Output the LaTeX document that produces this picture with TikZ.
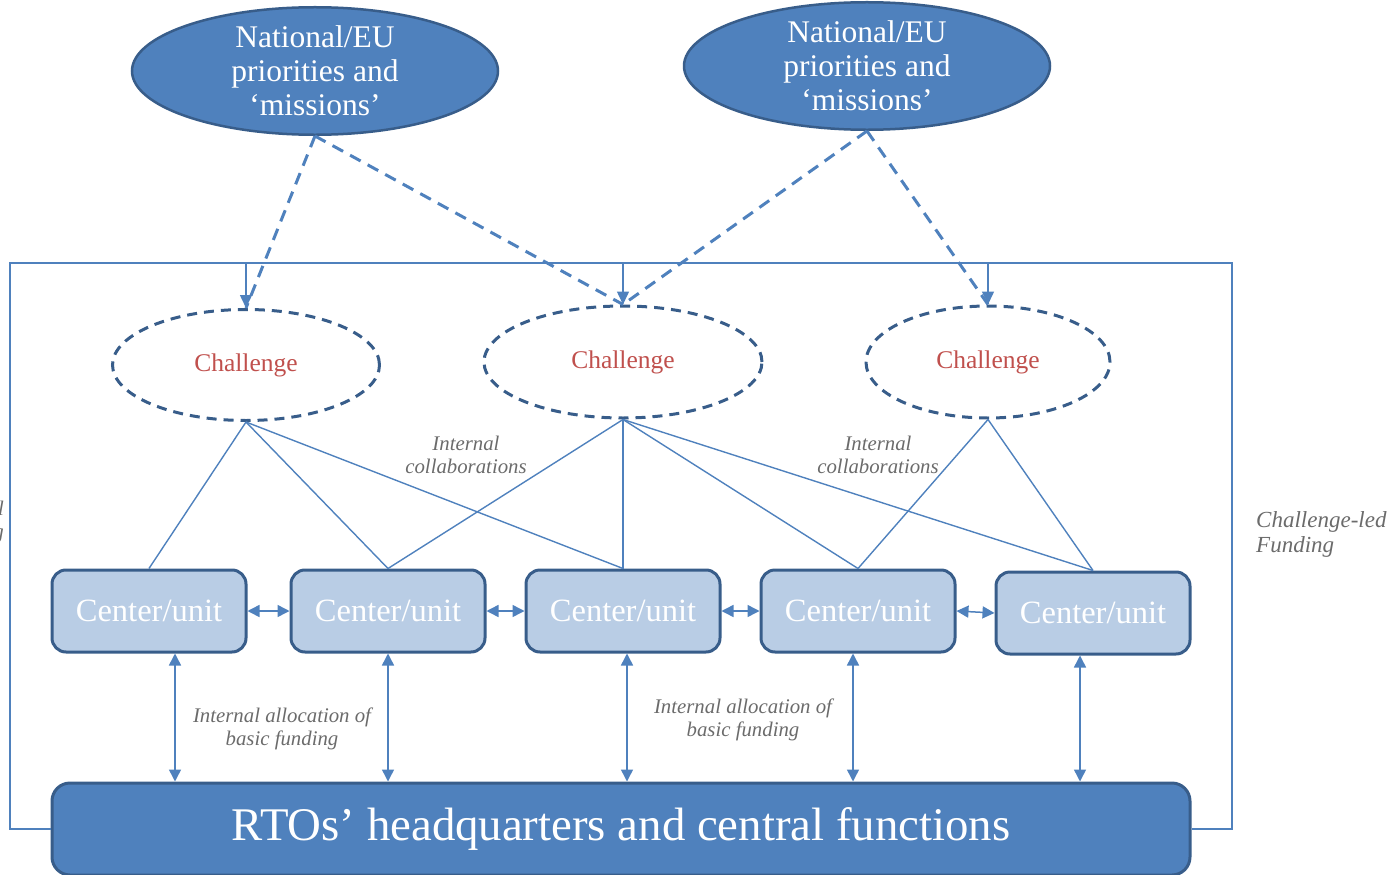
\documentclass[tikz,border=0pt]{standalone}
\usepackage{fontspec}
\setmainfont{Liberation Serif}
\usetikzlibrary{shapes.geometric,arrows.meta}

\definecolor{midblue}{HTML}{4F81BD}
\definecolor{darkblue}{HTML}{385D8A}
\definecolor{lightblue}{HTML}{B9CDE5}
\definecolor{chalred}{HTML}{C0504D}
\definecolor{notegray}{HTML}{6B6B6B}

\tikzset{
  prio/.style={ellipse, fill=midblue, draw=darkblue, line width=2.5pt, text=white,
    align=center, inner sep=0pt, minimum width=366pt, minimum height=116pt,
    font=\fontsize{31.5}{34}\selectfont},
  chal/.style={ellipse, draw=darkblue, line width=3pt, dash pattern=on 10pt off 7pt,
    text=chalred, inner sep=0pt, font=\fontsize{25.5}{28}\selectfont},
  unitbox/.style={rounded corners=14pt, fill=lightblue, draw=darkblue, line width=3pt,
    text=white, minimum width=194pt, minimum height=82pt, inner sep=0pt,
    font=\fontsize{32.5}{36}\selectfont},
  hqbox/.style={rounded corners=18pt, fill=midblue, draw=darkblue, line width=3pt,
    text=white, minimum width=1138pt, minimum height=92pt, inner sep=0pt,
    font=\fontsize{46.8}{52}\selectfont},
  lnk/.style={draw=midblue, line width=1.4pt},
  dlnk/.style={draw=midblue, line width=3pt, dash pattern=on 12pt off 8pt},
  frame/.style={draw=midblue, line width=1.5pt},
  arr/.style={draw=midblue, line width=1.5pt, -{Triangle[length=13pt,width=12pt]}},
  darr/.style={draw=midblue, line width=1.5pt,
    {Triangle[length=12pt,width=12pt]}-{Triangle[length=12pt,width=12pt]}},
  note/.style={text=notegray, align=center, inner sep=0pt,
    font=\fontsize{20.8}{23}\selectfont\itshape},
}

\begin{document}
\begin{tikzpicture}[x=1pt, y=-1pt]
  \useasboundingbox (0,0) rectangle (1390,875);

  % priorities
  \node[prio] (P1) at (315,71) {National/EU\\priorities and\\‘missions’};
  \node[prio] (P2) at (867,66) {National/EU\\priorities and\\‘missions’};

  % challenges
  \node[chal, minimum width=267pt, minimum height=111pt] (C1) at (246,365) {Challenge};
  \node[chal, minimum width=278pt, minimum height=112pt] (C2) at (623,362) {Challenge};
  \node[chal, minimum width=244pt, minimum height=112pt] (C3) at (988,362) {Challenge};

  % centres / units
  \node[unitbox] (U1) at (149,611) {Center/unit};
  \node[unitbox] (U2) at (388,611) {Center/unit};
  \node[unitbox] (U3) at (623,611) {Center/unit};
  \node[unitbox] (U4) at (858,611) {Center/unit};
  \node[unitbox] (U5) at (1093,613) {Center/unit};

  % headquarters
  \node[hqbox] (HQ) at (621,829) {RTOs’ headquarters and central functions};

  % funding frame
  \coordinate (ftl) at (10,263);
  \coordinate (ftr) at (1232,263);
  \draw[frame] (HQ.west) -| (ftl) -- (ftr) |- (HQ.east);
  \coordinate (t1) at (C1.north |- ftl);
  \coordinate (t2) at (C2.north |- ftl);
  \coordinate (t3) at (C3.north |- ftl);
  \draw[arr] (t1) -- (C1.north);
  \draw[arr] (t2) -- (C2.north);
  \draw[arr] (t3) -- (C3.north);

  % priorities to challenges
  \draw[dlnk] (P1.south) -- (C1.north);
  \draw[dlnk] (P1.south) -- (C2.north);
  \draw[dlnk] (P2.south) -- (C2.north);
  \draw[dlnk] (P2.south) -- (C3.north);

  % challenges to units
  \draw[lnk] (C1.south) -- (U1.north);
  \draw[lnk] (C1.south) -- (U2.north);
  \draw[lnk] (C1.south) -- (U3.north);
  \draw[lnk] (C2.south) -- (U2.north);
  \draw[lnk] (C2.south) -- (U3.north);
  \draw[lnk] (C2.south) -- (U4.north);
  \draw[lnk] (C2.south) -- (U5.north);
  \draw[lnk] (C3.south) -- (U4.north);
  \draw[lnk] (C3.south) -- (U5.north);

  % collaboration between units
  \draw[darr] (U1.east) -- (U2.west);
  \draw[darr] (U2.east) -- (U3.west);
  \draw[darr] (U3.east) -- (U4.west);
  \draw[darr] (U4.east) -- (U5.west);

  % basic funding links
  \coordinate (v1) at (175,0);
  \coordinate (v2) at (388,0);
  \coordinate (v3) at (627,0);
  \coordinate (v4) at (853,0);
  \coordinate (v5) at (1080,0);
  \draw[darr] (v1 |- U1.south) -- (v1 |- HQ.north);
  \draw[darr] (v2 |- U2.south) -- (v2 |- HQ.north);
  \draw[darr] (v3 |- U3.south) -- (v3 |- HQ.north);
  \draw[darr] (v4 |- U4.south) -- (v4 |- HQ.north);
  \draw[darr] (v5 |- U5.south) -- (v5 |- HQ.north);

  % labels
  \node[note] (n1) at (466,455) {Internal\\collaborations};
  \node[note] (n2) at (878,455) {Internal\\collaborations};
  \node[note] (n3) at (282,729) {Internal allocation of\\basic funding};
  \node[note] (n4) at (743,720) {Internal allocation of\\basic funding};
  \node[note, align=left, anchor=west, font=\fontsize{23}{25}\selectfont\itshape]
    (n5) at (1256,534) {Challenge-led\\Funding};
  \node[note, align=right, anchor=east] (n6) at (4,522) {Institutional\\funding};
\end{tikzpicture}
\end{document}
